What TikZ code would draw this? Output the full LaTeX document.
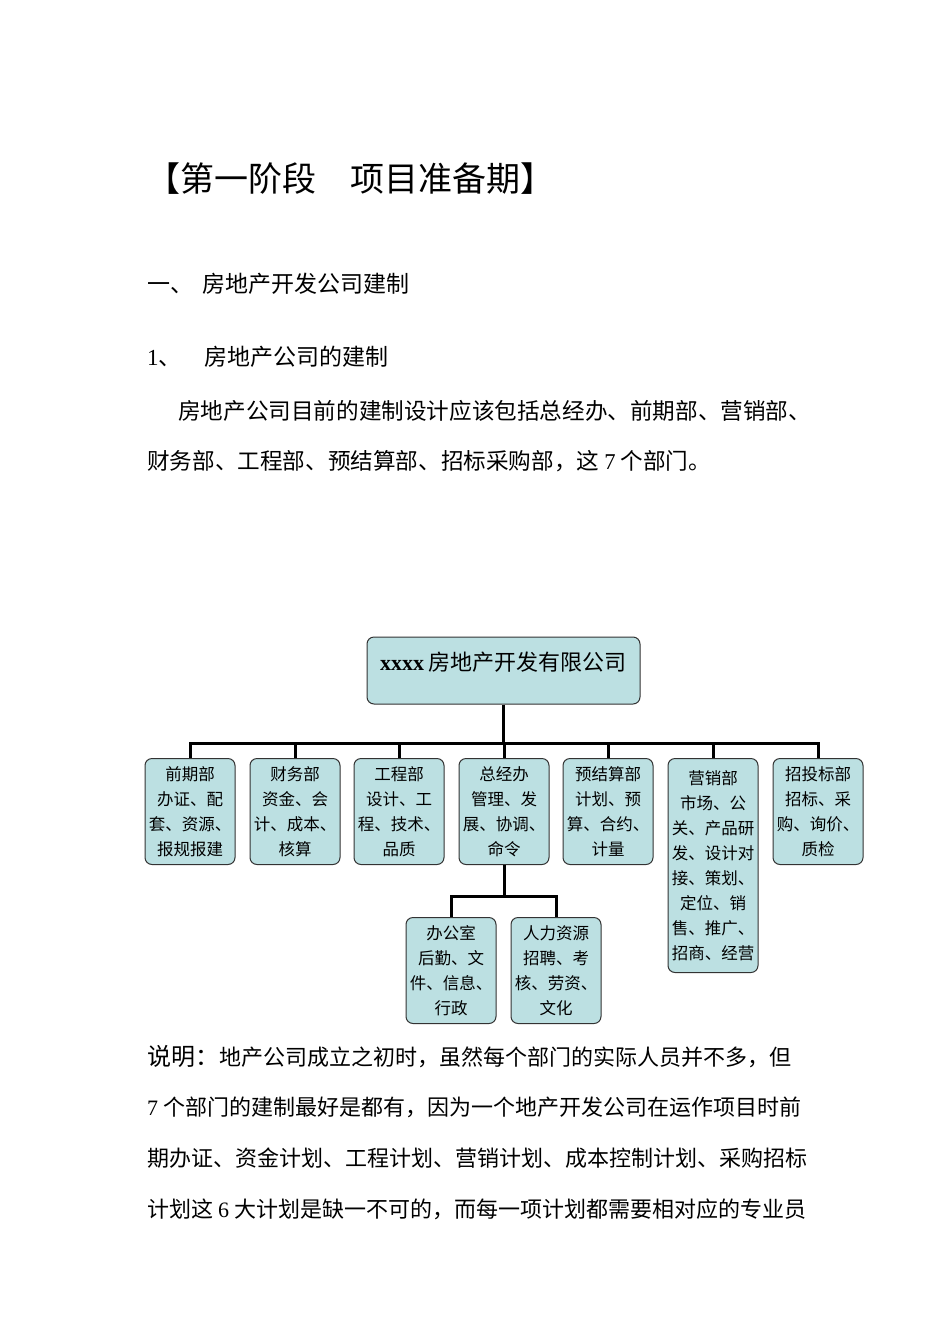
\documentclass[tikz,border=0pt]{standalone}
\usepackage{fontspec}
\setmainfont{Noto Sans CJK SC}
\newfontfamily\lat{Liberation Serif}
\definecolor{boxfill}{HTML}{BCE0E2}
\begin{document}
\begin{tikzpicture}[x=1pt,y=-1pt,
  box/.style={draw=black!80,line width=1pt,fill=boxfill,rounded corners=7pt,align=center,font=\fontsize{16.5}{25}\selectfont,inner sep=0pt,minimum width=90pt,minimum height=106pt},
  ln/.style={line width=3pt},
  txt/.style={anchor=base west,inner sep=0pt,font=\fontsize{22.6}{22}\selectfont}]
\useasboundingbox[fill=white] (0,0) rectangle (950,1344);
\node[txt,font=\fontsize{34}{34}\selectfont] (t) at (146,191) {【第一阶段\hspace{1em}项目准备期】};
\node[txt,font=\fontsize{23}{23}\selectfont] (h1) at (147,292) {一、\hspace{0.4em}房地产开发公司建制};
\node[txt,font=\fontsize{23}{23}\selectfont] (h2) at (147,365) {{\lat 1}、\hspace{1.0em}房地产公司的建制};
\node[txt] (p1) at (178,419) {房地产公司目前的建制设计应该包括总经办、前期部、营销部、};
\node[txt] (p2) at (147,469) {财务部、工程部、预结算部、招标采购部，这 {\lat 7} 个部门。};
\node[txt,font=\fontsize{22}{22}\selectfont] (n1) at (147,1065) {{\fontsize{24}{24}\selectfont 说明：}地产公司成立之初时，虽然每个部门的实际人员并不多，但};
\node[txt,font=\fontsize{22}{22}\selectfont] (n2) at (147,1115) {{\lat 7} 个部门的建制最好是都有，因为一个地产开发公司在运作项目时前};
\node[txt,font=\fontsize{22}{22}\selectfont] (n3) at (147,1166) {期办证、资金计划、工程计划、营销计划、成本控制计划、采购招标};
\node[txt,font=\fontsize{22}{22}\selectfont] (n4) at (147,1217) {计划这 {\lat 6} 大计划是缺一不可的，而每一项计划都需要相对应的专业员};

\node[box,minimum width=273pt,minimum height=67pt] (top) at (503.5,670.5) {};
\node[anchor=base,inner sep=0pt,font=\fontsize{22}{22}\selectfont] (toptxt) at (503.5,670) {{\lat\bfseries xxxx} 房地产开发有限公司};

\foreach \n/\x/\t in {a/190/前期部\\办证、配\\套、资源、\\报规报建,
  b/295/财务部\\资金、会\\计、成本、\\核算,
  c/399/工程部\\设计、工\\程、技术、\\品质,
  d/504/总经办\\管理、发\\展、协调、\\命令,
  e/608/预结算部\\计划、预\\算、合约、\\计量,
  g/818/招投标部\\招标、采\\购、询价、\\质检}
  {\node[box,anchor=north] (\n) at (\x,758) {\t}; }
\node[box,anchor=north,minimum height=214pt] (f) at (713,758) {营销部\\市场、公\\关、产品研\\发、设计对\\接、策划、\\定位、销\\售、推广、\\招商、经营};
\node[box,anchor=north] (o1) at (451,917) {办公室\\后勤、文\\件、信息、\\行政};
\node[box,anchor=north] (o2) at (556,917) {人力资源\\招聘、考\\核、劳资、\\文化};

\draw[ln] (top.south) -- (503.5,743);
\draw[ln] (a.north) -- (190,743) -- (818,743) -- (g.north);
\foreach \n in {b,c,d,e,f} \draw[ln] (\n.north) |- (503.5,743);
\draw[ln] (d.south) -- (504,896);
\draw[ln] (o1.north) -- (451,896) -- (556,896) -- (o2.north);
\end{tikzpicture}
\end{document}
